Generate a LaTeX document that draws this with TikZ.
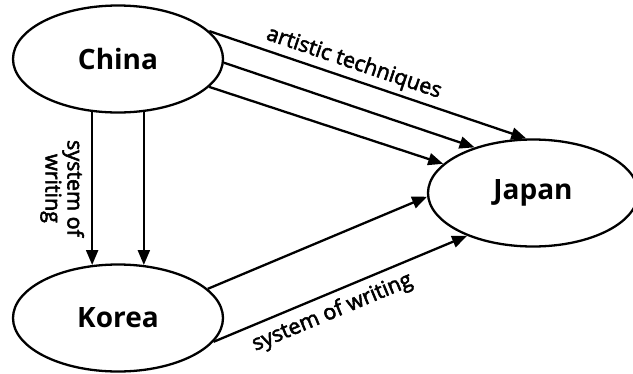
\documentclass[tikz,border=0pt]{standalone}
\usepackage{fontspec}
\setmainfont{Open Sans}
\newfontfamily\flowfont{Open Sans}[FakeBold=2.6]
\usetikzlibrary{arrows.meta,shapes.geometric}

\begin{document}
\begin{tikzpicture}[x=1pt, y=1pt, >={Triangle[length=15pt,width=12pt]}, line width=2.3pt,
    country/.style={ellipse, draw, minimum width=210pt, minimum height=107pt, inner sep=0pt,
                    font=\fontsize{28}{30}\selectfont\bfseries},
    flowtext/.style={font=\flowfont\fontsize{21.5}{22}\selectfont, inner sep=4pt}]
    \useasboundingbox (-118,-314) rectangle (515,59);

    % Nodes {China, Korea, Japan}
    \node [country] (china) at (0,0)       {China};
    \node [country] (korea) at (0,-259)    {Korea};
    \node [country] (japan) at (415,-134)  {Japan};

    % Paths China -> Japan
    \path [->] (china.17)  edge node [flowtext, sloped, above, pos=0.44] {artistic techniques} (japan.97);
    \path [->] (china.358) edge (japan.142);
    \path [->] (china.343) edge (japan.162);

    % Paths China -> Korea
    \path [->] (china.244) edge node [flowtext, midway, anchor=north, rotate=-90, align=center, inner sep=7pt] {system of\\writing} (korea.116);
    \path [->] (china.296) edge (korea.64);

    % Paths Korea -> Japan
    \path [->] (korea.18)  edge (japan.182);
    \path [->] (korea.346) edge node [flowtext, sloped, below, pos=0.44, inner sep=7pt] {system of writing} (japan.213);
\end{tikzpicture}
\end{document}
